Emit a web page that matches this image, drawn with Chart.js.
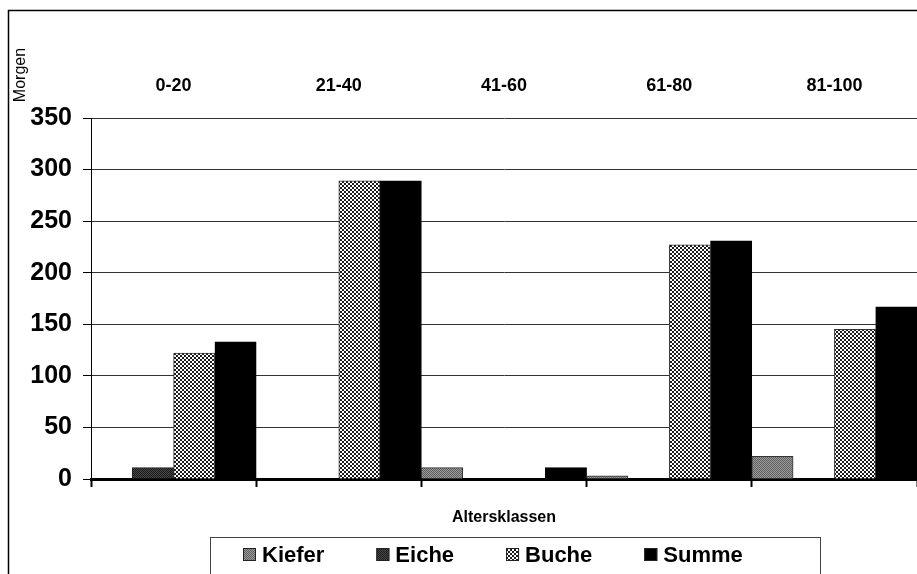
<!DOCTYPE html>
<html>
<head>
<meta charset="utf-8">
<script src="https://cdn.jsdelivr.net/npm/chart.js@4"></script>
<style>
  html, body { margin: 0; padding: 0; background: #fff; }
  #wrap { width: 917px; height: 574px; position: relative; }
</style>
</head>
<body>
<div id="wrap"><canvas id="forstChart"></canvas></div>
<script>
var altersklassen = ["0-20", "21-40", "41-60", "61-80", "81-100"];
var kiefer = [0, 0, 11, 3, 22];
var eiche = [11, 0, 0, 0, 0];
var buche = [122, 289, 0, 227, 145];
var summe = [133, 289, 11, 231, 167];
var yTicks = [0, 50, 100, 150, 200, 250, 300, 350];

var FONT = "'Liberation Sans', Arial, sans-serif";

// small repeating fills, like the old office hatch styles
function makePattern(size, paint) {
    var c = document.createElement('canvas');
    c.width = size;
    c.height = size;
    var g = c.getContext('2d');
    for (var x = 0; x < size; x++) {
        for (var y = 0; y < size; y++) {
            g.fillStyle = paint(x, y);
            g.fillRect(x, y, 1, 1);
        }
    }
    return g.createPattern(c, 'repeat');
}
var kieferFill = makePattern(2, function (x, y) { return (x + y) % 2 ? '#9c9c9c' : '#5e5e5e'; });
var eicheFill = makePattern(2, function (x, y) { return (x + y) % 2 ? '#474747' : '#1c1c1c'; });
var bucheFill = makePattern(4, function (x, y) {
    var d = (x + y) % 4;
    return (d === 0 || (d === 1 && y % 2 === 0) || (d === 3 && y % 2 === 1)) ? '#1a1a1a' : '#ffffff';
});

// frame around the whole chart and the y caption
var framePlugin = {
    id: 'frame',
    afterDraw: function (chart) {
        var ctx = chart.ctx;
        ctx.save();
        ctx.strokeStyle = '#000';
        ctx.lineWidth = 1.5;
        ctx.beginPath();
        ctx.moveTo(8.5, 580);
        ctx.lineTo(8.5, 10.5);
        ctx.lineTo(930, 10.5);
        ctx.stroke();

        ctx.fillStyle = '#000';
        ctx.font = '16px ' + FONT;
        ctx.translate(21, 75);
        ctx.rotate(-Math.PI / 2);
        ctx.textAlign = 'center';
        ctx.textBaseline = 'middle';
        ctx.fillText('Morgen', 0, 0);
        ctx.restore();
    }
};

// legend drawn from the datasets, inside a box
var legendPlugin = {
    id: 'boxLegend',
    afterDraw: function (chart) {
        var ctx = chart.ctx;
        ctx.save();
        ctx.strokeStyle = '#444';
        ctx.lineWidth = 1;
        ctx.strokeRect(210.5, 537.5, 610, 60);

        ctx.font = 'bold 22px ' + FONT;
        ctx.textBaseline = 'middle';
        var x = 243;
        var yMid = 555;
        chart.data.datasets.forEach(function (ds) {
            ctx.fillStyle = ds.backgroundColor;
            ctx.fillRect(x, yMid - 7, 13, 13);
            ctx.strokeStyle = '#222';
            ctx.strokeRect(x + 0.5, yMid - 6.5, 12, 12);
            ctx.fillStyle = '#000';
            ctx.fillText(ds.label, x + 19, yMid + 1);
            x += 19 + ctx.measureText(ds.label).width + 52;
        });
        ctx.restore();
    }
};

var ctx = document.getElementById('forstChart').getContext('2d');
var myChart = new Chart(ctx, {
    type: 'bar',
    data: {
        labels: altersklassen,
        datasets: [
            { label: 'Kiefer', data: kiefer, backgroundColor: kieferFill, borderColor: '#333', borderWidth: 1 },
            { label: 'Eiche', data: eiche, backgroundColor: eicheFill, borderColor: '#222', borderWidth: 1 },
            { label: 'Buche', data: buche, backgroundColor: bucheFill, borderColor: '#333', borderWidth: 1 },
            { label: 'Summe', data: summe, backgroundColor: '#000', borderColor: '#000', borderWidth: 1 }
        ]
    },
    options: {
        responsive: true,
        maintainAspectRatio: false,
        animation: false,
        layout: { padding: { left: 0, right: 0, top: 0, bottom: 44 } },
        datasets: {
            bar: { barPercentage: 1, categoryPercentage: 1 }
        },
        plugins: {
            legend: { display: false },
            tooltip: { enabled: false }
        },
        scales: {
            x: {
                position: 'bottom',
                offset: true,
                grid: {
                    offset: true,
                    drawOnChartArea: false,
                    tickLength: 8,
                    tickWidth: 2,
                    tickColor: '#000'
                },
                border: { color: '#000', width: 3 },
                ticks: { display: false },
                title: {
                    display: true,
                    text: 'Altersklassen',
                    color: '#000',
                    font: { family: FONT, size: 16, weight: 'bold' },
                    padding: { top: 0, bottom: 3 }
                },
                afterFit: function (scale) { scale.height = 51; }
            },
            x2: {
                type: 'category',
                position: 'top',
                offset: true,
                labels: altersklassen,
                grid: { display: false, drawTicks: false },
                border: { display: false },
                ticks: {
                    color: '#000',
                    padding: 21,
                    font: { family: FONT, size: 18, weight: 'bold' }
                },
                afterFit: function (scale) { scale.height = 118; }
            },
            y: {
                min: 0,
                max: 350,
                afterBuildTicks: function (scale) {
                    scale.ticks = yTicks.map(function (v) { return { value: v }; });
                },
                grid: {
                    color: '#333',
                    lineWidth: 1,
                    tickColor: '#000',
                    tickLength: 8
                },
                border: { color: '#000', width: 1 },
                ticks: {
                    color: '#000',
                    padding: 11,
                    font: { family: FONT, size: 25, weight: 'bold' }
                },
                afterFit: function (scale) { scale.width = 91; }
            }
        }
    },
    plugins: [framePlugin, legendPlugin]
});
</script>
</body>
</html>
